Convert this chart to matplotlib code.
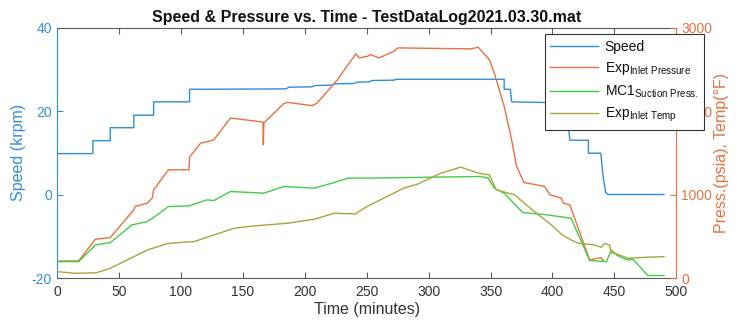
import matplotlib
matplotlib.use("Agg")
import matplotlib.pyplot as plt

plt.rcParams['font.family'] = ['Liberation Sans', 'DejaVu Sans']
plt.rcParams['mathtext.default'] = 'regular'
plt.rcParams['axes.unicode_minus'] = False

# ---- data ----
speed_t = [0, 29, 29, 43, 43, 62, 62, 78, 78, 107, 107, 185, 187, 206, 208, 222, 224, 240, 242,
           252, 254, 272, 274, 361, 361, 366, 367, 400, 401, 407, 408, 413, 414, 429, 429, 439,
           441, 443, 445, 490]
speed_v = [9.8, 9.8, 12.9, 12.9, 16, 16, 19, 19, 22.2, 22.2, 25.2, 25.3, 25.7, 25.8, 26.1, 26.2,
           26.5, 26.6, 26.9, 27.0, 27.3, 27.4, 27.6, 27.6, 25.2, 25.2, 22.2, 22.0, 19, 19, 16, 16,
           13, 13, 9.9, 9.9, 4, 0.5, 0, 0]

press_t = [0, 17.5, 31, 43, 62, 63, 73, 77, 78, 90, 106.5, 107, 116, 122.5, 126.7, 140, 166.3,
           166.6, 167, 183, 186, 206, 210, 226.5, 235, 240, 241, 244, 251, 253, 260, 272, 275,
           334, 340, 349, 353, 361, 367, 371, 377, 393.7, 398, 407, 409, 414, 430, 439, 441]
press_v = [204, 204, 464, 484, 816, 856, 896, 960, 1056, 1296, 1296, 1448, 1616, 1636, 1656, 1916,
           1868, 1596, 1856, 2088, 2104, 2064, 2096, 2376, 2556, 2656, 2688, 2636, 2656, 2676,
           2636, 2716, 2756, 2744, 2764, 2616, 2456, 2056, 1656, 1336, 1144, 1096, 996, 956, 896,
           876, 216, 244, 210]

mc1_t = [0, 17.5, 31, 43, 60.5, 73, 81, 90, 106.5, 121, 126.7, 140, 167, 183, 207.6, 224, 235,
         251, 342, 348, 353, 361, 376, 396, 415, 430, 443.5, 447.5, 451.7, 457, 461, 465, 468,
         477, 490]
mc1_v = [196, 196, 396, 424, 636, 676, 756, 856, 864, 936, 928, 1036, 1016, 1096, 1076, 1144,
         1196, 1196, 1216, 1196, 1076, 1016, 784, 756, 716, 210, 196, 336, 276, 236, 216, 224,
         176, 30, 30]

temp_t = [0, 16, 32, 43, 73, 90, 110.6, 143, 159, 186, 207.6, 224, 241, 248, 253, 280, 291, 310,
          326, 340, 349, 354.6, 369.6, 380.4, 399, 408, 415, 421, 434, 439.5, 442, 446, 447.5,
          451.7, 461, 469, 490]
temp_v = [76, 56, 64, 116, 336, 416, 436, 596, 624, 656, 704, 776, 768, 836, 876, 1076, 1124,
          1256, 1328, 1256, 1236, 1056, 996, 856, 636, 516, 456, 416, 396, 368, 416, 396, 304,
          288, 236, 244, 256]

x_ticks = [0, 50, 100, 150, 200, 250, 300, 350, 400, 450, 500]
left_ticks = [-20, 0, 20, 40]
right_ticks = [0, 1000, 2000, 3000]

blue = '#2f8fd6'
orange = '#e8703f'
green = '#44cc44'
olive = '#a9a53e'
dark = '#333333'
gray = '#5a5a5a'

fig = plt.figure(figsize=(7.4, 3.28), dpi=100)
ax = fig.add_axes([0.077, 0.1524, 0.837, 0.7637])
ax2 = ax.twinx()

l1, = ax.plot(speed_t, speed_v, color=blue, lw=1.0, label='Speed')
l2, = ax2.plot(press_t, press_v, color=orange, lw=1.0, label='Exp$_{Inlet\\ Pressure}$')
l3, = ax2.plot(mc1_t, mc1_v, color=green, lw=1.0, label='MC1$_{Suction\\ Press.}$')
l4, = ax2.plot(temp_t, temp_v, color=olive, lw=1.0, label='Exp$_{Inlet\\ Temp}$')

ax.set_xlim(0, 500)
ax.set_ylim(-20, 40)
ax2.set_ylim(0, 3000)
ax.set_xticks(x_ticks)
ax.set_yticks(left_ticks)
ax2.set_yticks(right_ticks)

for sp in ['top', 'bottom']:
    ax.spines[sp].set_color(gray)
    ax.spines[sp].set_linewidth(0.8)
ax.spines['left'].set_color(blue)
ax.spines['right'].set_visible(False)
ax2.spines['right'].set_color(orange)
for sp in ['top', 'bottom', 'left']:
    ax2.spines[sp].set_visible(False)
ax.spines['left'].set_linewidth(0.8)
ax2.spines['right'].set_linewidth(0.8)

ax.tick_params(axis='x', direction='in', top=True, length=4, color=gray, labelsize=10,
               labelcolor=dark, pad=5)
ax.tick_params(axis='y', direction='in', length=4, color=blue, labelcolor=blue, labelsize=10,
               right=False)
ax2.tick_params(axis='y', direction='in', length=4, color=orange, labelcolor=orange,
                labelsize=10)

ax.set_xlabel('Time (minutes)', fontsize=11.5, color=dark, labelpad=2)
ax.set_ylabel('Speed (krpm)', fontsize=11.5, color=blue, labelpad=4)
ax2.set_ylabel('Press.(psia), Temp(°F)', fontsize=11.5, color=orange, labelpad=1)
ax.set_title('Speed & Pressure vs. Time - TestDataLog2021.03.30.mat', fontsize=11.5,
             fontweight='bold', color='#111111', pad=4)

leg = fig.legend(handles=[l1, l2, l3, l4], loc='upper right', bbox_to_anchor=(0.951, 0.895),
                 fontsize=10, frameon=True, fancybox=False, framealpha=1, edgecolor=dark,
                 handlelength=3.4, labelspacing=0.45, borderpad=0.4, handletextpad=0.5,
                 borderaxespad=0)
leg.get_frame().set_linewidth(0.8)
for t in leg.get_texts():
    t.set_color('#111111')

fig.savefig('out.png', dpi=100)
